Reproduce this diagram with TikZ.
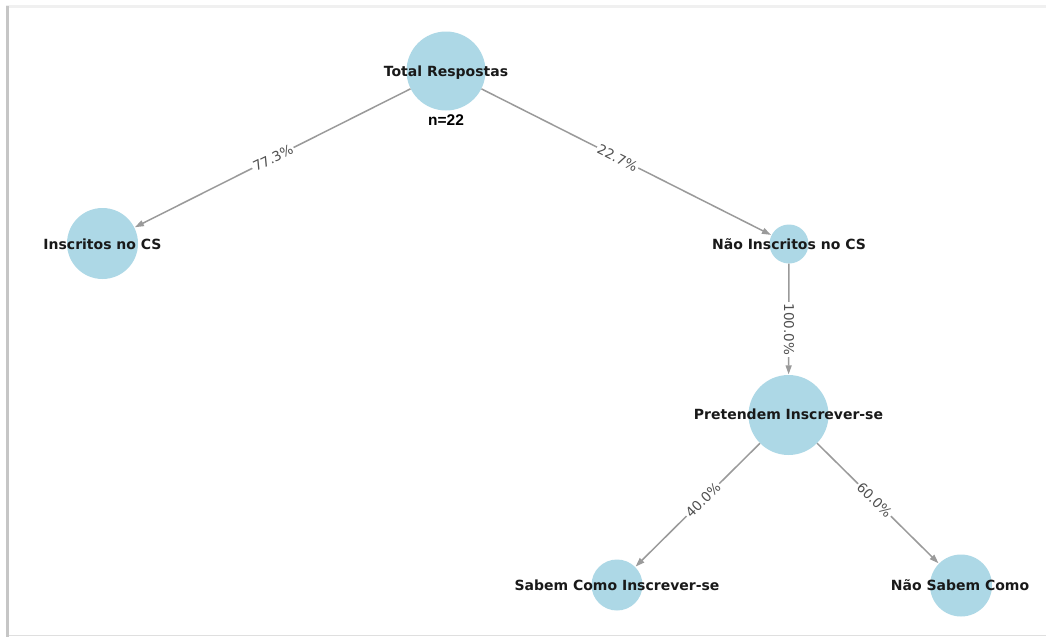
\documentclass[tikz,border=0pt]{standalone}
\usepackage{fontspec}
\setmainfont{DejaVu Sans}
\newfontfamily\arialfont{Liberation Sans}
\usetikzlibrary{arrows.meta}
\definecolor{nodeblue}{HTML}{ADD8E6}
\definecolor{edgegray}{HTML}{9A9A9A}
\definecolor{labelgray}{HTML}{505050}
\tikzset{
  vnode/.style={circle, fill=nodeblue, draw=none, inner sep=0pt},
  vtext/.style={font=\fontsize{14}{16}\selectfont\bfseries, text=black!90, inner sep=0pt},
  edge/.style={draw=edgegray, line width=1.5pt, -{Triangle[length=9pt,width=6pt]}, shorten >=0.5pt},
  elabel/.style={font=\fontsize{13.5}{15}\selectfont, text=labelgray, fill=white, inner sep=1.5pt}
}
\begin{document}
\begin{tikzpicture}[x=1pt,y=-1pt]
\useasboundingbox (0,0) rectangle (1046,637);
\fill[white] (0,0) rectangle (1046,637);
% frame
\draw[gray!12, line width=2.5pt] (6,6.5) -- (1046,6.5);
\draw[gray!25, line width=1.5pt] (8,635.5) -- (1046,635.5);
\draw[gray!45, line width=3pt] (7.5,6) -- (7.5,637);
% nodes
\node[vnode, minimum size=79pt] (t) at (446,71) {};
\node[vnode, minimum size=71pt] (i) at (102.5,243.5) {};
\node[vnode, minimum size=39pt] (ni) at (789,244) {};
\node[vnode, minimum size=80pt] (p) at (788.5,415) {};
\node[vnode, minimum size=51pt] (s) at (617,585) {};
\node[vnode, minimum size=62pt] (ns) at (961,585.5) {};
% edges
\draw[edge] (t) -- (i);
\draw[edge] (t) -- (ni);
\draw[edge] (ni) -- (p);
\draw[edge] (p) -- (s);
\draw[edge] (p) -- (ns);
% edge labels
\node[elabel, rotate=26.6] (l1) at (273,158) {77.3\%};
\node[elabel, rotate=-26.6] (l2) at (617.5,158) {22.7\%};
\node[elabel, rotate=-90] (l3) at (789,329.5) {100.0\%};
\node[elabel, rotate=45] (l4) at (703,500) {40.0\%};
\node[elabel, rotate=-45] (l5) at (874.5,500) {60.0\%};
% node texts
\node[vtext] (tt) at (446,73) {Total Respostas};
\node[font=\arialfont\fontsize{15.5}{17}\selectfont\bfseries, inner sep=0pt] (nn) at (446,120) {n=22};
\node[vtext] (it) at (102.5,244) {Inscritos no CS};
\node[vtext] (nit) at (789,244) {Não Inscritos no CS};
\node[vtext] (pt) at (788.5,414) {Pretendem Inscrever-se};
\node[vtext] (st) at (617,585) {Sabem Como Inscrever-se};
\node[vtext] (nst) at (960,585) {Não Sabem Como};
\end{tikzpicture}
\end{document}
